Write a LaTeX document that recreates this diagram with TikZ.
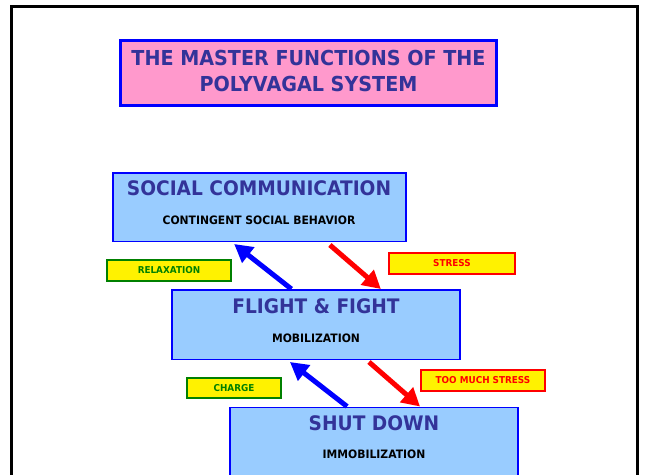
\documentclass[tikz,border=0pt]{standalone}
\usepackage{fontspec}
\setmainfont{DejaVu Sans Bold}[FakeStretch=0.93]
\usetikzlibrary{arrows.meta,calc}
\definecolor{titleblue}{HTML}{333399}
\definecolor{boxfill}{HTML}{99CCFF}
\definecolor{pinkfill}{HTML}{FF99CC}
\definecolor{lblgreen}{HTML}{008000}
\begin{document}
\begin{tikzpicture}[x=1pt,y=-1pt,
  statebox/.style={draw=blue,line width=1.5pt,fill=boxfill,inner sep=0pt,
    minimum width=288pt,minimum height=68pt},
  headtext/.style={text=titleblue,font=\fontsize{20}{24}\selectfont,inner sep=0pt},
  subtext/.style={text=black,font=\fontsize{11.6}{13}\selectfont,inner sep=0pt},
  lbl/.style={fill=yellow,line width=1.5pt,inner sep=0pt,minimum height=21pt,
    font=\fontsize{9.5}{11}\selectfont},
  goodlbl/.style={lbl,draw=lblgreen,text=lblgreen},
  badlbl/.style={lbl,draw=red,text=red},
  upar/.style={draw=blue,line width=5pt,-{Triangle[length=18pt,width=19pt]}},
  downar/.style={draw=red,line width=5pt,-{Triangle[length=18pt,width=19pt]}}
]
\useasboundingbox (0,0) rectangle (645,474);
\fill[white] (0,0) rectangle (645,474);
\draw[line width=3.5pt] (11.5,490) -- (11.5,6.5) -- (637.5,6.5) -- (637.5,490);

\node[draw=blue,line width=3pt,fill=pinkfill,minimum width=376pt,minimum height=65pt,
  inner sep=0pt] (title) at (308.5,73) {};
\node[text=titleblue,align=center,inner sep=0pt,
  font=\fontsize{20.6}{25.5}\selectfont] (titletext) at (308.5,71)
  {THE MASTER FUNCTIONS OF THE\\POLYVAGAL SYSTEM};

\node[statebox,minimum width=293pt,minimum height=68.5pt] (sc) at (259.5,207) {};
\node[headtext] (sct) at (259,188) {SOCIAL COMMUNICATION};
\node[subtext] (scs) at (259,220) {CONTINGENT SOCIAL BEHAVIOR};

\node[statebox,minimum height=69.5pt] (ff) at (316,324.5) {};
\node[headtext] (fft) at (316,306) {FLIGHT \& FIGHT};
\node[subtext] (ffs) at (316,338) {MOBILIZATION};

\node[statebox,minimum height=120pt,anchor=north] (sd) at (374,406.5) {};
\node[headtext] (sdt) at (374,423) {SHUT DOWN};
\node[subtext] (sds) at (374,454) {IMMOBILIZATION};

\node[goodlbl,minimum width=124pt] (relax) at (169,270.5) {RELAXATION};
\node[badlbl,minimum width=126pt] (stress) at (452,263.5) {STRESS};
\node[goodlbl,minimum width=94pt,minimum height=20pt] (charge) at (234,388) {CHARGE};
\node[badlbl,minimum width=124pt] (tms) at (483,380.5) {TOO MUCH STRESS};

\draw[upar] ($(ff.north west)!0.415!(ff.north east)$) -- ($(sc.south west)!0.414!(sc.south east)+(0,2)$);
\draw[downar] ($(sc.south west)!0.739!(sc.south east)+(0,3)$) -- ($(ff.north west)!0.724!(ff.north east)$);
\draw[upar] ($(sd.north west)!0.407!(sd.north east)$) -- ($(ff.south west)!0.41!(ff.south east)+(0,2)$);
\draw[downar] ($(ff.south west)!0.683!(ff.south east)+(0,2)$) -- ($(sd.north west)!0.659!(sd.north east)$);
\end{tikzpicture}
\end{document}
